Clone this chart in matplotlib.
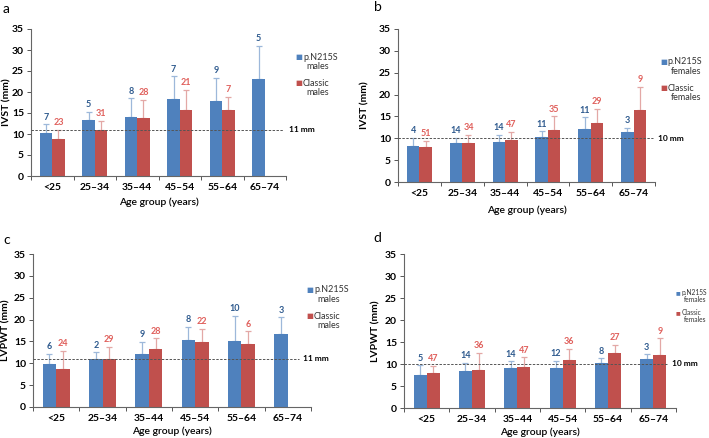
import numpy as np
import matplotlib
matplotlib.use("Agg")
import matplotlib.pyplot as plt

plt.rcParams['font.family'] = ['Lato', 'DejaVu Sans']

groups = ['<25', '25\u201334', '35\u201344', '45\u201354', '55\u201364', '65\u201374']
nan = np.nan

# panel a: IVST, males
a_var_mean = [10.2, 13.4, 14.1, 18.3, 17.9, 23.0]
a_var_top = [12.3, 15.2, 18.5, 23.7, 23.3, 30.9]
a_var_n = [7, 5, 8, 7, 9, 5]
a_cls_mean = [8.8, 11.0, 13.8, 15.8, 15.6, nan]
a_cls_top = [10.9, 13.1, 18.2, 20.5, 18.8, nan]
a_cls_n = [23, 31, 28, 21, 7, None]

# panel b: IVST, females
b_var_mean = [8.3, 8.9, 9.2, 10.3, 12.1, 11.4]
b_var_top = [10.1, 10.1, 10.8, 11.6, 14.8, 12.4]
b_var_n = [4, 14, 14, 11, 11, 3]
b_cls_mean = [8.1, 8.9, 9.5, 11.8, 13.5, 16.5]
b_cls_top = [9.4, 10.8, 11.5, 15.0, 16.8, 21.7]
b_cls_n = [51, 34, 47, 35, 29, 9]

# panel c: LVPWT, males
c_var_mean = [9.9, 11.0, 12.2, 15.3, 15.1, 16.6]
c_var_top = [12.1, 12.5, 14.9, 18.3, 20.9, 20.5]
c_var_n = [6, 2, 9, 8, 10, 3]
c_cls_mean = [8.8, 11.0, 13.2, 14.8, 14.4, nan]
c_cls_top = [12.9, 13.7, 15.7, 17.8, 17.3, nan]
c_cls_n = [24, 29, 28, 22, 6, None]

# panel d: LVPWT, females
d_var_mean = [7.5, 8.5, 9.0, 9.2, 10.3, 11.2]
d_var_top = [9.7, 10.2, 10.6, 10.7, 11.3, 12.2]
d_var_n = [5, 14, 14, 12, 8, 3]
d_cls_mean = [8.0, 8.7, 9.4, 10.8, 12.4, 12.1]
d_cls_top = [9.6, 12.5, 11.5, 13.5, 14.3, 15.8]
d_cls_n = [47, 36, 47, 36, 27, 9]

BLUE = '#4F81BD'
RED = '#C0504D'
BLUE_ERR = '#9DB8DA'
RED_ERR = '#E3A8A6'
BLUE_TXT = '#2E5A8E'
RED_TXT = '#E0605C'

W, H = 709, 438


def fx(px):
    return px / W


def fy(py):
    return 1 - py / H


def draw_panel(fig, box, letter, letter_pos, ylabel, var, cls, sex, cutoff,
               line_end, cut_x, leg_pos, leg_fs, leg_gap, leg_indent, ylab_x, xlab_y):
    x0, x1, ytop, ybot = box
    ax = fig.add_axes([fx(x0), fy(ybot), (x1 - x0) / W, (ybot - ytop) / H])
    x = np.arange(len(groups))
    w = 0.29
    for (mean, top, ns), off, col, ecol, tcol in [
            (var, -w / 2, BLUE, BLUE_ERR, BLUE_TXT),
            (cls, w / 2, RED, RED_ERR, RED_TXT)]:
        mean = np.array(mean, dtype=float)
        top = np.array(top, dtype=float)
        err = np.vstack([np.zeros_like(mean), top - mean])
        ax.bar(x + off, mean, w, color=col, zorder=2)
        ax.errorbar(x + off, mean, yerr=err, fmt='none', ecolor=ecol,
                    elinewidth=0.9, capsize=2, capthick=0.9, zorder=1)
        for xi, t, n in zip(x + off, top, ns):
            if n is None:
                continue
            ax.annotate(str(n), (xi, t), xytext=(0, 2), textcoords='offset points',
                        ha='center', va='bottom', fontsize=6.5, fontweight='bold', color=tcol)

    ax.plot([-0.5, line_end], [cutoff, cutoff], ls='--', lw=0.7, color='#555555',
            dashes=(2.5, 1.5), clip_on=False, zorder=3)
    ax.text(cut_x, cutoff, f'{cutoff} mm', fontsize=6, fontweight='bold',
            va='center', ha='left')

    ax.set_xlim(-0.5, 5.5)
    ax.set_ylim(0, 35)
    ax.set_yticks(range(0, 36, 5))
    ax.set_xticks(x)
    ax.set_xticklabels(groups)
    ax.set_xticks(np.arange(-0.5, 6, 1), minor=True)
    ax.tick_params(axis='x', which='major', length=0, pad=5, labelsize=7.5)
    ax.tick_params(axis='x', which='minor', length=3, width=0.7, color='#555555')
    ax.tick_params(axis='y', length=3, width=0.7, color='#555555', labelsize=7.5, pad=2)
    for lab in ax.get_xticklabels() + ax.get_yticklabels():
        lab.set_fontweight('bold')
    for s in ['top', 'right']:
        ax.spines[s].set_visible(False)
    for s in ['left', 'bottom']:
        ax.spines[s].set_color('#666666')
        ax.spines[s].set_linewidth(0.8)
    ax.set_ylabel(ylabel, fontsize=7.5, fontweight='bold', va='center')
    ax.yaxis.set_label_coords((ylab_x - x0) / (x1 - x0), 0.5)
    ax.set_xlabel('Age group (years)', fontsize=7.5, fontweight='semibold', va='center')
    ax.xaxis.set_label_coords(0.5, (ybot - xlab_y) / (ybot - ytop))

    fig.text(fx(letter_pos[0]), fy(letter_pos[1]), letter, fontsize=10,
             va='center', ha='left')

    lx, ly = leg_pos
    step = leg_fs * 1.45
    for i, (name, col) in enumerate([('p.N215S', BLUE), ('Classic', RED)]):
        yy = ly + i * 2.8 * step
        fig.text(fx(lx), fy(yy), '\u25a0', color=col, fontsize=leg_fs - 1.2,
                 va='center', ha='left', family='DejaVu Sans')
        fig.text(fx(lx + leg_gap), fy(yy), name, fontsize=leg_fs,
                 va='center', ha='left', color='#333333')
        fig.text(fx(lx + leg_gap + leg_indent), fy(yy + step), sex, fontsize=leg_fs,
                 va='center', ha='left', color='#333333')
    return ax


fig = plt.figure(figsize=(7.09, 4.38), dpi=100)

draw_panel(fig, (31, 286, 29, 176), 'a', (3, 9),
           'IVST (mm)', (a_var_mean, a_var_top, a_var_n), (a_cls_mean, a_cls_top, a_cls_n),
           'males', 11, 5.42, 5.58, (295, 57), 6.5, 8, 3, 7, 202)
draw_panel(fig, (398, 655, 29, 182), 'b', (374, 7),
           'IVST (mm)', (b_var_mean, b_var_top, b_var_n), (b_cls_mean, b_cls_top, b_cls_n),
           'females', 10, 5.45, 5.57, (660, 62), 6.5, 7.5, 3, 365, 210)
draw_panel(fig, (33, 311, 254, 407), 'c', (3, 240),
           'LVPWT (mm)', (c_var_mean, c_var_top, c_var_n), (c_cls_mean, c_cls_top, c_cls_n),
           'males', 11, 5.24, 5.33, (306, 290), 6.5, 8, 3, 6, 431)
draw_panel(fig, (404, 676, 254, 408), 'd', (373, 238),
           'LVPWT (mm)', (d_var_mean, d_var_top, d_var_n), (d_cls_mean, d_cls_top, d_cls_n),
           'females', 10, 5.33, 5.42, (676, 293), 4.8, 5.5, 2, 376, 432)

fig.savefig('out.png', dpi=100)
